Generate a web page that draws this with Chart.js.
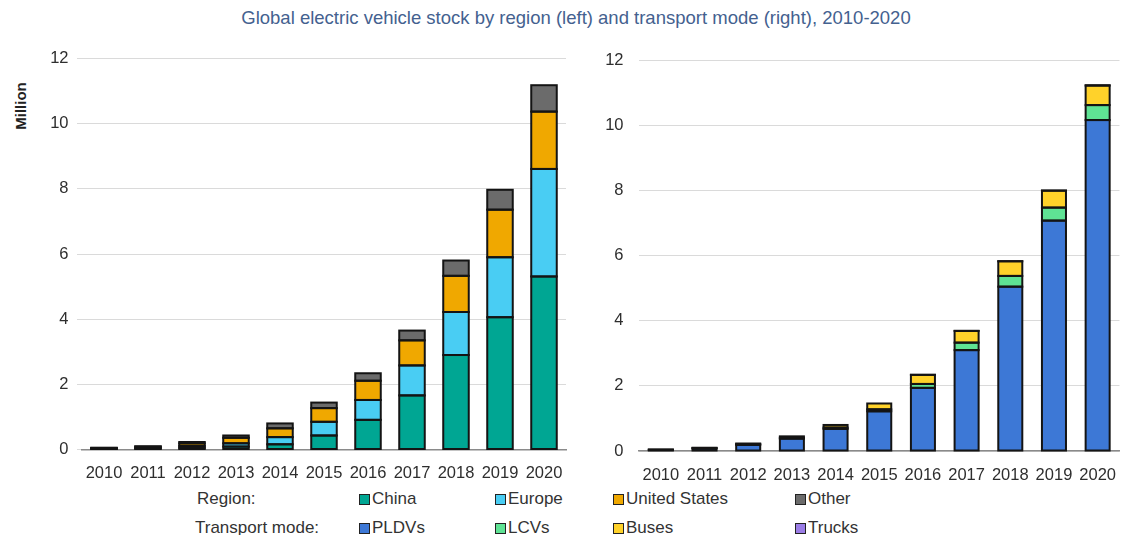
<!DOCTYPE html>
<html>
<head>
<meta charset="utf-8">
<script src="https://cdn.jsdelivr.net/npm/chart.js@4.4.1/dist/chart.umd.min.js"></script>
<style>
  html, body { margin:0; padding:0; background:#fff; }
  body { width:1123px; height:535px; position:relative; overflow:hidden; font-family:"Liberation Sans", Arial, sans-serif; }
  #title { position:absolute; left:0; width:1152px; top:7px; text-align:center; font-size:18.5px; color:#44618f; white-space:nowrap; }
  #ytitle { position:absolute; left:20px; top:106px; transform:translate(-50%,-50%) rotate(-90deg); font-size:15px; font-weight:bold; color:#222; white-space:nowrap; }
  .cv { position:absolute; }
  .lg { position:absolute; font-size:17px; color:#333; white-space:nowrap; line-height:20px; }
  .sq { position:absolute; width:9px; height:9px; border:1px solid #222; }
</style>
</head>
<body>
<div id="title">Global electric vehicle stock by region (left) and transport mode (right), 2010-2020</div>
<div id="ytitle">Million</div>
<canvas id="c1" class="cv" width="575" height="440" style="left:0px;top:40px;"></canvas>
<canvas id="c2" class="cv" width="548" height="440" style="left:575px;top:40px;"></canvas>
<div id="legend"></div>
<script>
// ---- data ----
const years = ["2010","2011","2012","2013","2014","2015","2016","2017","2018","2019","2020"];
const yTicks = [0, 2, 4, 6, 8, 10, 12];

// Left: by region (million)
const china  = [0.02, 0.025, 0.05, 0.09, 0.16, 0.43, 0.91, 1.66, 2.90, 4.06, 5.31];
const europe = [0.015, 0.03, 0.06, 0.10, 0.22, 0.42, 0.61, 0.92, 1.32, 1.84, 3.30];
const usa    = [0.01, 0.03, 0.08, 0.17, 0.27, 0.42, 0.59, 0.77, 1.11, 1.46, 1.76];
const other  = [0.01, 0.015, 0.04, 0.07, 0.15, 0.17, 0.23, 0.30, 0.47, 0.61, 0.81];

// Right: by transport mode (million)
const pldv   = [0.035, 0.08, 0.19, 0.38, 0.68, 1.22, 1.94, 3.10, 5.05, 7.08, 10.17];
const lcv    = [0.005, 0.01, 0.02, 0.03, 0.04, 0.06, 0.12, 0.23, 0.33, 0.40, 0.46];
const buses  = [0.005, 0.01, 0.02, 0.04, 0.08, 0.18, 0.28, 0.36, 0.45, 0.52, 0.60];
const trucks = [0, 0, 0, 0, 0, 0.001, 0.002, 0.002, 0.003, 0.005, 0.01];

const legendRows = [
  { label: "Region:", items: [["China","#00a693"],["Europe","#49cdf3"],["United States","#f0a800"],["Other","#6b6b6b"]] },
  { label: "Transport mode:", items: [["PLDVs","#3d78d6"],["LCVs","#5fe394"],["Buses","#ffd22a"],["Trucks","#9b7de6"]] }
];

// ---- legend (HTML text) ----
(function(){
  const lg = document.getElementById('legend');
  const rowY = [489, 518];
  const itemX = [359, 495, 613, 795];
  legendRows.forEach((row, r) => {
    const t = document.createElement('div');
    t.className = 'lg'; t.textContent = row.label;
    t.style.left = (r === 0 ? 197 : 195) + 'px'; t.style.top = rowY[r] + 'px';
    lg.appendChild(t);
    row.items.forEach((it, i) => {
      const s = document.createElement('div');
      s.className = 'sq'; s.style.background = it[1];
      s.style.left = itemX[i] + 'px'; s.style.top = (rowY[r] + 5) + 'px';
      lg.appendChild(s);
      const l = document.createElement('div');
      l.className = 'lg'; l.textContent = it[0];
      l.style.left = (itemX[i] + 13) + 'px'; l.style.top = rowY[r] + 'px';
      lg.appendChild(l);
    });
  });
})();

// ---- outline plugin: strokes each bar's edges centred on them (spreadsheet style) ----
const outlinePlugin = {
  id: 'outline',
  afterDatasetsDraw(chart) {
    const ctx = chart.ctx;
    ctx.save();
    ctx.lineWidth = 2;
    ctx.strokeStyle = '#141414';
    chart.data.datasets.forEach((ds, i) => {
      const meta = chart.getDatasetMeta(i);
      if (meta.hidden) return;
      meta.data.forEach(el => {
        const p = el.getProps(['x', 'y', 'base', 'width'], true);
        if (Math.abs(p.base - p.y) < 0.05) return;
        ctx.strokeRect(p.x - p.width / 2, Math.min(p.y, p.base), p.width, Math.abs(p.base - p.y));
      });
    });
    ctx.restore();
  }
};

// ---- charts ----
const tickFont = { family: "'Liberation Sans', Arial, sans-serif", size: 16.5 };
const tickColor = '#2e2e2e';

function makeDatasets(list, barPct) {
  return list.map(([label, data, color]) => ({
    label, data, backgroundColor: color, borderWidth: 0,
    barPercentage: barPct, categoryPercentage: 1.0
  }));
}

function makeOptions(cfg) {
  return {
    responsive: false,
    animation: false,
    events: [],
    layout: { padding: cfg.padding },
    plugins: { legend: { display: false }, tooltip: { enabled: false }, title: { display: false } },
    scales: {
      x: {
        stacked: true,
        grid: { display: false },
        border: { display: true, color: '#8a8a8a', width: 1.5 },
        ticks: { font: tickFont, color: tickColor, padding: cfg.xPad, autoSkip: false, maxRotation: 0 },
        afterFit(s) { s.height = cfg.xHeight; }
      },
      y: {
        stacked: true,
        min: 0, max: 12,
        afterBuildTicks(s) { s.ticks = yTicks.map(v => ({ value: v })); },
        grid: { color: '#dadada', lineWidth: 1, drawTicks: true, tickLength: cfg.tickLen, tickColor: cfg.tickColor },
        border: { display: false },
        ticks: { font: tickFont, color: tickColor, padding: cfg.yPad },
        afterFit(s) { s.width = cfg.yWidth; }
      }
    }
  };
}

new Chart(document.getElementById('c1'), {
  type: 'bar',
  data: {
    labels: years,
    datasets: makeDatasets([
      ["China", china, legendRows[0].items[0][1]],
      ["Europe", europe, legendRows[0].items[1][1]],
      ["United States", usa, legendRows[0].items[2][1]],
      ["Other", other, legendRows[0].items[3][1]]
    ], 0.58)
  },
  options: makeOptions({ padding: { top: 18.5, right: 9, left: 0, bottom: 0 }, xHeight: 30.5, yWidth: 82, tickLen: 5, tickColor: '#dadada', yPad: 8.5, xPad: 6 }),
  plugins: [outlinePlugin]
});

new Chart(document.getElementById('c2'), {
  type: 'bar',
  data: {
    labels: years,
    datasets: makeDatasets([
      ["PLDVs", pldv, legendRows[1].items[0][1]],
      ["LCVs", lcv, legendRows[1].items[1][1]],
      ["Buses", buses, legendRows[1].items[2][1]],
      ["Trucks", trucks, legendRows[1].items[3][1]]
    ], 0.55)
  },
  options: makeOptions({ padding: { top: 20.5, right: 0, left: 0, bottom: 0 }, xHeight: 29, yWidth: 64, tickLen: 7.5, tickColor: 'rgba(0,0,0,0)', yPad: 8, xPad: 7 }),
  plugins: [outlinePlugin]
});
</script>
</body>
</html>
